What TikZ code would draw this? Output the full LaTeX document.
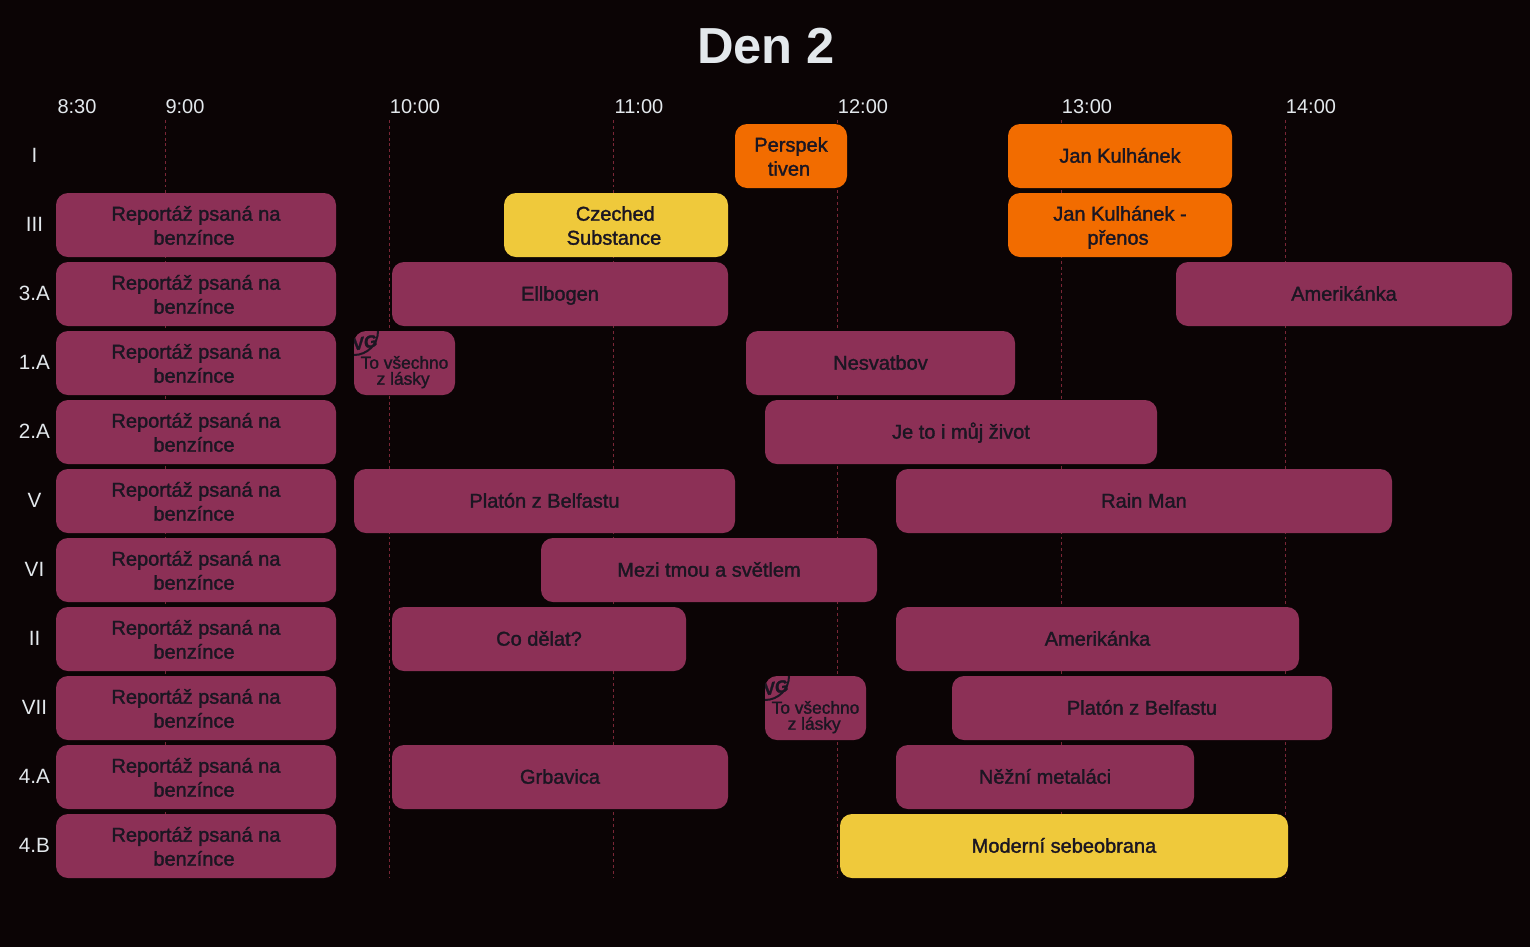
\documentclass[tikz,border=0pt]{standalone}
\usepackage{fontspec}
\setmainfont{Liberation Sans}
\newfontfamily\boxfont[FakeBold=1.6]{Liberation Sans}
\definecolor{pagebg}{HTML}{0B0405}
\definecolor{plum}{HTML}{8C3056}
\definecolor{tangerine}{HTML}{F26C00}
\definecolor{mustard}{HTML}{EFC93B}
\definecolor{inktext}{HTML}{1B1622}
\definecolor{headtext}{HTML}{E3E8EC}
\definecolor{gridred}{HTML}{7A2636}
\newcommand{\evt}[7]{% name, x1, y1, x2, y2, style, text
  \node[#6, minimum width={(#4-#2)*0.75pt}, minimum height={(#5-#3)*0.75pt}] (#1) at ({(#2+#4)/2},{(#3+#5)/2}) {#7};}
\newcommand{\twoup}{\rule{0pt}{15.5pt}}
\newcommand{\rep}[2]{\evt{r#1}{56}{#2}{336}{#2+64}{plumbox}{\twoup Reportáž psaná na\\benzínce\hspace*{3pt}}}
\begin{document}
\begin{tikzpicture}[x=0.75pt,y=-0.75pt,
  basebox/.style={rounded corners=9pt,inner sep=0pt,align=center,font=\boxfont\fontsize{15}{18}\selectfont,text=inktext,
    execute at begin node={\rule{0pt}{14pt}},execute at end node={\rule[-4pt]{0pt}{4pt}}},
  plumbox/.style={basebox,fill=plum},
  orangebox/.style={basebox,fill=tangerine},
  yellowbox/.style={basebox,fill=mustard},
  smallbox/.style={plumbox,font=\boxfont\fontsize{13}{12}\selectfont},
  rowlabel/.style={text=headtext,font=\fontsize{15.5}{18}\selectfont,anchor=center},
  timelabel/.style={text=headtext,font=\fontsize{15}{18}\selectfont,anchor=center},
  gridline/.style={draw=gridred,line width=0.6pt,dash pattern=on 2.2pt off 2.2pt},
  badge/.style={draw=inktext,line width=1.5pt},
  badgetext/.style={text=inktext,font=\boxfont\bfseries\fontsize{13}{12}\selectfont,inner sep=0pt}]
\useasboundingbox (0,0) rectangle (1530,947);
\fill[pagebg] (0,0) rectangle (1530,947);

\node[text=headtext,font=\bfseries\fontsize{38}{40}\selectfont] (title) at (766,46) {Den 2};

\foreach \nm/\tx/\lx in {a/9:00/185,b/10:00/415,c/11:00/639,d/12:00/863,e/13:00/1087,f/14:00/1311}
  \node[timelabel] (t\nm) at (\lx,107) {\tx};
\node[timelabel] (t0) at (77,107) {8:30};

\foreach \nm/\tx/\ly in {1/I/155,2/III/224,3/3.A/293,4/1.A/362,5/2.A/431,6/V/500,7/VI/569,8/II/638,9/VII/707,10/4.A/776,11/4.B/845}
  \node[rowlabel] (l\nm) at (34.5,\ly) {\tx};

\foreach \gx in {165.5,389.5,613.5,837.5,1061.5,1285.5}
  \draw[gridline] (\gx,120) -- (\gx,878);

\rep{1}{193}\rep{2}{262}\rep{3}{331}\rep{4}{400}\rep{5}{469}
\rep{6}{538}\rep{7}{607}\rep{8}{676}\rep{9}{745}\rep{10}{814}

\evt{perspek}{735}{124}{847}{188}{orangebox}{\twoup Perspek\\tiven\hspace*{3pt}}
\evt{kulh}{1008}{124}{1232}{188}{orangebox}{Jan Kulhánek}
\evt{czech}{504}{193}{728}{257}{yellowbox}{\twoup Czeched\hspace*{1pt}\\Substance\hspace*{3pt}}
\evt{kulhp}{1008}{193}{1232}{257}{orangebox}{\twoup Jan Kulhánek -\\přenos\hspace*{3pt}}
\evt{ell}{392}{262}{728}{326}{plumbox}{Ellbogen}
\evt{amer}{1176}{262}{1512}{326}{plumbox}{Amerikánka}
\evt{vsechnoa}{354}{331}{455}{395}{smallbox}{\rule{0pt}{24.5pt}To všechno\\z lásky\hspace*{2pt}}
\evt{nesv}{746}{331}{1015}{395}{plumbox}{Nesvatbov}
\evt{zivot}{765}{400}{1157}{464}{plumbox}{Je to i můj život}
\evt{platon}{354}{469}{735}{533}{plumbox}{Platón z Belfastu}
\evt{rain}{896}{469}{1392}{533}{plumbox}{Rain Man}
\evt{mezi}{541}{538}{877}{602}{plumbox}{Mezi tmou a světlem}
\evt{codelat}{392}{607}{686}{671}{plumbox}{Co dělat?}
\evt{amerb}{896}{607}{1299}{671}{plumbox}{Amerikánka}
\evt{vsechnob}{765}{676}{866}{740}{smallbox}{\rule{0pt}{24.5pt}To všechno\\z lásky\hspace*{2pt}}
\evt{platonb}{952}{676}{1332}{740}{plumbox}{Platón z Belfastu}
\evt{grb}{392}{745}{728}{809}{plumbox}{Grbavica}
\evt{nezni}{896}{745}{1194}{809}{plumbox}{Něžní metaláci}
\evt{modern}{840}{814}{1288}{878}{yellowbox}{Moderní sebeobrana}

% VG badges, clipped to their boxes
\foreach \bx/\by in {354/331,765/676}{
  \begin{scope}
    \clip (\bx,\by) rectangle (\bx+27,\by+27);
    \draw[badge] (\bx,\by) circle (24);
    \node[badgetext,rotate=10,xslant=0.15] at (\bx+11,\by+11.5) {VG};
  \end{scope}
}
\end{tikzpicture}
\end{document}
